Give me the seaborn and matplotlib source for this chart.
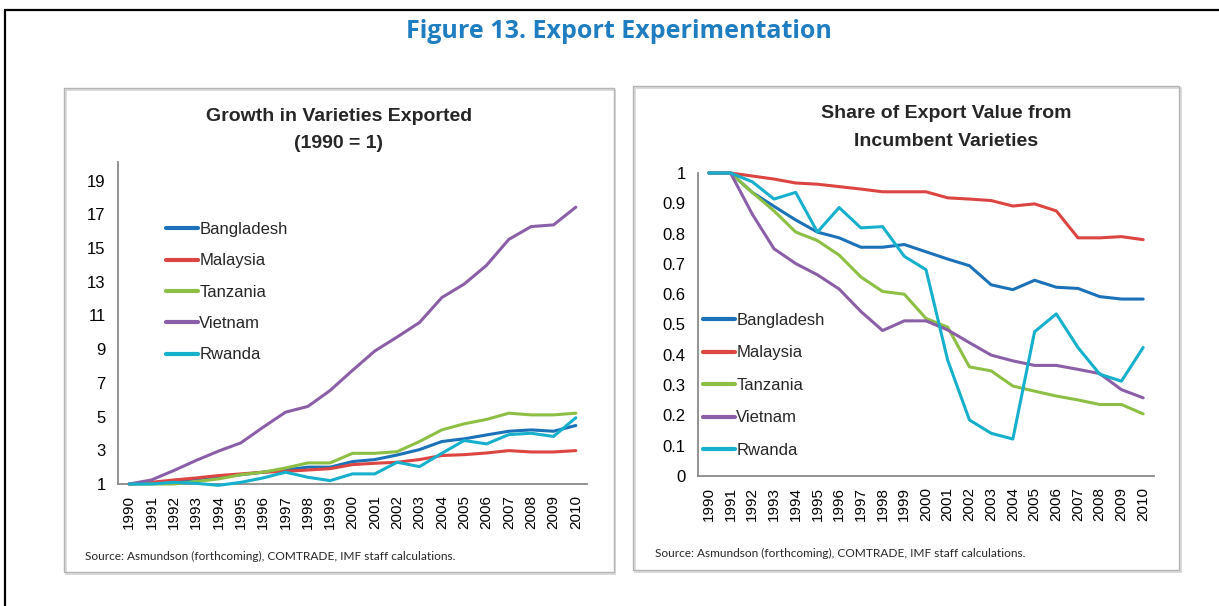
import numpy as np
import pandas as pd
import matplotlib
matplotlib.use("Agg")
import matplotlib.pyplot as plt
from matplotlib.patches import Rectangle
from matplotlib.lines import Line2D
import seaborn as sns

sns.set_theme(style="white")
plt.rcParams['font.family'] = ['Liberation Sans', 'DejaVu Sans']

years = list(range(1990, 2011))
countries = ["Bangladesh", "Malaysia", "Tanzania", "Vietnam", "Rwanda"]
colors = ["#1b72b8", "#dc4542", "#8dbf45", "#8a5fa8", "#17b0cc"]

# Growth in varieties exported (1990 = 1)
growth_bangladesh = [1, 1.04, 1.15, 1.3, 1.44, 1.55, 1.7, 1.83, 2.0, 2.0, 2.33, 2.45, 2.72, 3.04, 3.52, 3.68, 3.91, 4.13, 4.21, 4.13, 4.47]
growth_malaysia = [1, 1.1, 1.24, 1.36, 1.5, 1.6, 1.7, 1.75, 1.83, 1.91, 2.15, 2.23, 2.29, 2.45, 2.69, 2.74, 2.84, 2.98, 2.9, 2.9, 2.98]
growth_tanzania = [1, 1.0, 1.0, 1.15, 1.3, 1.55, 1.7, 1.95, 2.25, 2.25, 2.82, 2.82, 2.92, 3.52, 4.21, 4.57, 4.83, 5.2, 5.1, 5.1, 5.2]
growth_vietnam = [1, 1.24, 1.8, 2.4, 2.95, 3.44, 4.37, 5.26, 5.6, 6.55, 7.74, 8.89, 9.72, 10.58, 12.06, 12.86, 13.97, 15.51, 16.27, 16.37, 17.42]
growth_rwanda = [1, 1.0, 1.1, 1.04, 0.92, 1.1, 1.36, 1.7, 1.4, 1.2, 1.6, 1.6, 2.29, 2.03, 2.82, 3.58, 3.38, 3.93, 4.01, 3.82, 4.93]

# Share of export value from incumbent varieties
share_bangladesh = [1, 1, 0.936, 0.89, 0.845, 0.805, 0.786, 0.755, 0.755, 0.764, 0.74, 0.716, 0.694, 0.631, 0.615, 0.646, 0.623, 0.619, 0.592, 0.584, 0.584]
share_malaysia = [1, 1, 0.99, 0.98, 0.967, 0.963, 0.955, 0.947, 0.938, 0.938, 0.938, 0.918, 0.914, 0.909, 0.891, 0.898, 0.875, 0.786, 0.786, 0.79, 0.78]
share_tanzania = [1, 1, 0.936, 0.875, 0.805, 0.777, 0.729, 0.657, 0.609, 0.6, 0.52, 0.491, 0.36, 0.347, 0.297, 0.28, 0.264, 0.251, 0.236, 0.236, 0.205]
share_vietnam = [1, 1, 0.864, 0.75, 0.701, 0.664, 0.617, 0.543, 0.48, 0.512, 0.512, 0.482, 0.44, 0.399, 0.38, 0.365, 0.365, 0.352, 0.338, 0.285, 0.258]
share_rwanda = [1, 1, 0.971, 0.914, 0.936, 0.805, 0.886, 0.819, 0.823, 0.725, 0.681, 0.382, 0.185, 0.141, 0.122, 0.476, 0.535, 0.424, 0.336, 0.313, 0.424]

growth = [growth_bangladesh, growth_malaysia, growth_tanzania, growth_vietnam, growth_rwanda]
share = [share_bangladesh, share_malaysia, share_tanzania, share_vietnam, share_rwanda]


def long_df(series):
    rows = []
    for c, vals in zip(countries, series):
        for y, v in zip(years, vals):
            rows.append((c, y, v))
    return pd.DataFrame(rows, columns=["country", "year", "value"])


W, H = 1219, 606
fig = plt.figure(figsize=(W / 100, H / 100), dpi=100)


def fx(x):
    return x / W


def fy(y):
    return 1 - y / H


# outer frame (left and top black lines)
fig.add_artist(Line2D([fx(5), fx(5)], [fy(10), fy(606)], color="black", lw=1.6))
fig.add_artist(Line2D([fx(5), fx(1219)], [fy(10), fy(10)], color="black", lw=1.6))

# panel boxes
for (x0, y0, x1, y1) in [(64, 88, 614, 572), (633, 86, 1179, 570)]:
    fig.add_artist(Rectangle((fx(x0 + 1.5), fy(y1 + 1.5)), fx(x1 - x0), fy(0) - fy(y1 - y0),
                             facecolor="none", edgecolor="#d4d4d4", lw=1.2))
    fig.add_artist(Rectangle((fx(x0), fy(y1)), fx(x1 - x0), fy(0) - fy(y1 - y0),
                             facecolor="none", edgecolor="#b4b4b4", lw=1.0))

fig.text(fx(619), fy(31), "Figure 13. Export Experimentation", ha="center", va="center",
         color="#1f7dc1", fontsize=18, fontweight="bold", family=["Open Sans", "DejaVu Sans"])

palette = dict(zip(countries, colors))

ax1 = fig.add_axes([fx(118), fy(484), fx(587 - 118), fy(162) - fy(484)])
ax2 = fig.add_axes([fx(698), fy(476), fx(1154 - 698), fy(173) - fy(476)])

for ax, series in [(ax1, growth), (ax2, share)]:
    sns.lineplot(data=long_df(series), x="year", y="value", hue="country", palette=palette,
                 hue_order=countries, lw=2.2, ax=ax, legend=False)
    for ln in ax.get_lines():
        ln.set_clip_on(False)
        ln.set_zorder(3)
    ax.set_xlim(1989.5, 2010.5)
    ax.set_xticks(years)
    ax.set_xticklabels([str(y) for y in years], rotation=90, fontsize=11)
    ax.set_xlabel("")
    ax.set_ylabel("")
    ax.set_facecolor("none")
    for s in ["top", "right"]:
        ax.spines[s].set_visible(False)
    for s in ["left", "bottom"]:
        ax.spines[s].set_color("#8a8a8a")
        ax.spines[s].set_linewidth(1.3)
        ax.spines[s].set_zorder(2)
    ax.tick_params(axis="both", length=0, colors="black")
    ax.tick_params(axis="y", labelsize=12, pad=9)
    ax.tick_params(axis="x", pad=8)
    ax.grid(False)

ax1.set_ylim(1, 20.1)
ax1.set_yticks([1, 3, 5, 7, 9, 11, 13, 15, 17, 19])
ax2.set_ylim(0, 1)
ax2.set_yticks([0, 0.1, 0.2, 0.3, 0.4, 0.5, 0.6, 0.7, 0.8, 0.9, 1])
ax2.set_yticklabels(["0", "0.1", "0.2", "0.3", "0.4", "0.5", "0.6", "0.7", "0.8", "0.9", "1"])

handles = [Line2D([0], [0], color=c, lw=3) for c in colors]
for ax, (lx, ly, sp) in [(ax1, (166, 222, 0.98)), (ax2, (703, 313, 1.05))]:
    ax.legend(handles, countries, loc="upper left", bbox_to_anchor=(fx(lx), fy(ly)),
              bbox_transform=fig.transFigure, frameon=False, fontsize=12,
              handlelength=1.9, handletextpad=0.1, labelspacing=sp, borderpad=0,
              borderaxespad=0)

fig.text(fx(339), fy(117), "Growth in Varieties Exported", ha="center", va="center",
         fontsize=14, fontweight="bold")
fig.text(fx(339), fy(143), "(1990 = 1)", ha="center", va="center",
         fontsize=14, fontweight="bold")
fig.text(fx(946), fy(113), "Share of Export Value from", ha="center", va="center",
         fontsize=14, fontweight="bold")
fig.text(fx(946), fy(141), "Incumbent Varieties", ha="center", va="center",
         fontsize=14, fontweight="bold")

src = "Source: Asmundson (forthcoming), COMTRADE, IMF staff calculations."
fig.text(fx(85), fy(556), src, ha="left", va="center", fontsize=8.6, family=["Lato", "DejaVu Sans"])
fig.text(fx(655), fy(553), src, ha="left", va="center", fontsize=8.6, family=["Lato", "DejaVu Sans"])

fig.savefig("out.png", dpi=100)
